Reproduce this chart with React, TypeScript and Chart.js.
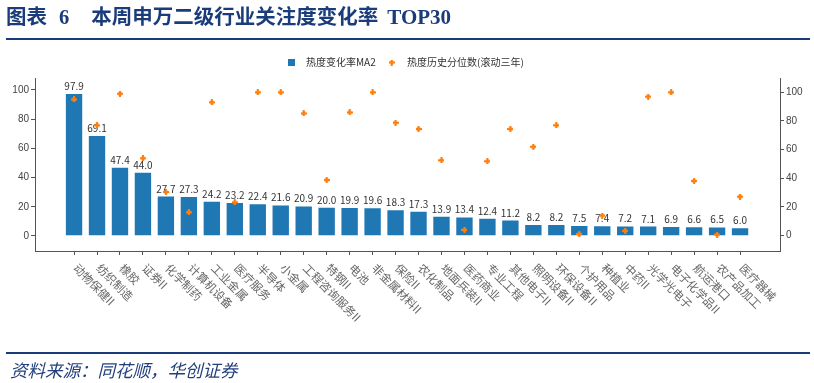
import React, { useEffect, useRef } from 'react';
import { Chart, registerables } from 'chart.js';

Chart.register(...registerables);

const categories = [
  '动物保健II', '纺织制造', '橡胶', '证券II', '化学制药', '计算机设备', '工业金属', '医疗服务',
  '半导体', '小金属', '工程咨询服务II', '特钢II', '电池', '非金属材料II', '保险II', '农化制品',
  '地面兵装II', '医药商业', '专业工程', '其他电子II', '照明设备II', '环保设备II', '个护用品',
  '种植业', '中药II', '光学光电子', '电子化学品II', '航运港口', '农产品加工', '医疗器械',
];
const heatChangeMA2 = [
  97.9, 69.1, 47.4, 44.0, 27.7, 27.3, 24.2, 23.2, 22.4, 21.6, 20.9, 20.0, 19.9, 19.6, 18.3,
  17.3, 13.9, 13.4, 12.4, 11.2, 8.2, 8.2, 7.5, 7.4, 7.2, 7.1, 6.9, 6.6, 6.5, 6.0,
];
const heatPercentile = [
  95, 77, 99, 54, 30.5, 16.3, 93, 23.3, 100, 100, 85.3, 38.8, 86, 100, 78.8,
  74.4, 52.6, 4, 51.9, 74.4, 62, 77, 1.2, 14, 3.3, 97, 100, 38.1, 0.7, 27.2,
];
const leftTicks = [0, 20, 40, 60, 80, 100];
const rightTicks = [0, 20, 40, 60, 80, 100];
const legendLabels = ['热度变化率MA2', '热度历史分位数(滚动三年)'];

const BLUE = '#1f77b4';
const ORANGE = '#ff7f0e';
const NAVY = '#1b3c7b';

function makePlus(color: string) {
  const c = document.createElement('canvas');
  c.width = 6;
  c.height = 6;
  const g = c.getContext('2d')!;
  g.fillStyle = color;
  g.fillRect(2, 0, 2, 6);
  g.fillRect(0, 2, 6, 2);
  g.globalAlpha = 0.5;
  g.fillRect(1, 1, 4, 4);
  return c;
}

export default function App() {
  const ref = useRef<HTMLCanvasElement | null>(null);

  useEffect(() => {
    if (!ref.current) return;
    const plus = makePlus(ORANGE);
    const cjk = '"Noto Sans CJK SC", sans-serif';

    const customPlugin = {
      id: 'customDraw',
      afterDatasetDraw(chart: any, args: any) {
        if (args.index !== 0) return;
        const ctx = chart.ctx;
        ctx.save();
        ctx.font = '10px ' + cjk;
        ctx.fillStyle = '#333';
        ctx.textAlign = 'center';
        ctx.textBaseline = 'alphabetic';
        args.meta.data.forEach((el: any, i: number) => {
          ctx.fillText(heatChangeMA2[i].toFixed(1), el.x, el.y - 3);
        });
        ctx.restore();
      },
      afterDraw(chart: any) {
        const ctx = chart.ctx;
        const xs = chart.scales.x;
        const bottom = chart.chartArea.bottom;
        ctx.save();
        ctx.font = '11.5px ' + cjk;
        ctx.fillStyle = '#666';
        ctx.textAlign = 'left';
        ctx.textBaseline = 'middle';
        categories.forEach((c, i) => {
          const x = xs.getPixelForValue(i);
          ctx.save();
          ctx.translate(x + 1.5, bottom + 15);
          ctx.rotate(Math.PI / 4);
          ctx.fillText(c, 0, 0);
          ctx.restore();
        });
        // legend
        const ly = 62.5;
        ctx.fillStyle = BLUE;
        ctx.fillRect(288, ly - 3.5, 7, 7);
        ctx.drawImage(plus, 391.7 - 3, ly - 3);
        ctx.font = '10px ' + cjk;
        ctx.fillStyle = '#333';
        ctx.textAlign = 'left';
        ctx.textBaseline = 'middle';
        ctx.fillText(legendLabels[0], 306, ly);
        ctx.fillText(legendLabels[1], 407, ly);
        ctx.restore();
      },
    };

    const axisColor = '#555';
    const tickFont = { family: '"Liberation Sans", Arial, sans-serif', size: 10 };

    const chart = new Chart(ref.current, {
      type: 'bar',
      data: {
        datasets: [
          {
            type: 'bar',
            label: legendLabels[0],
            data: heatChangeMA2.map((v, i) => ({ x: i, y: v })),
            backgroundColor: BLUE,
            borderColor: 'rgba(255,255,255,0.55)',
            borderWidth: 1,
            barPercentage: 1,
            categoryPercentage: 0.8,
            yAxisID: 'y',
            xAxisID: 'x',
            order: 2,
          } as any,
          {
            type: 'scatter',
            label: legendLabels[1],
            data: heatPercentile.map((v, i) => ({ x: i, y: v })),
            pointStyle: plus,
            pointRadius: 3,
            backgroundColor: ORANGE,
            borderColor: ORANGE,
            yAxisID: 'y1',
            xAxisID: 'x',
            order: 1,
          } as any,
        ],
      },
      options: {
        animation: false,
        responsive: false,
        maintainAspectRatio: false,
        layout: { padding: { top: 78, left: 0, right: 0, bottom: 0 } },
        plugins: {
          legend: { display: false },
          tooltip: { enabled: false },
        },
        scales: {
          x: {
            type: 'linear',
            min: -1.7,
            max: 30.74,
            bounds: 'data',
            offset: false,
            afterBuildTicks: (s: any) => {
              s.ticks = categories.map((_, i) => ({ value: i }));
            },
            afterFit: (s: any) => {
              s.height = 132;
            },
            grid: {
              display: true,
              offset: false,
              drawOnChartArea: false,
              drawTicks: true,
              tickLength: 4,
              color: axisColor,
              lineWidth: 1,
            },
            border: { display: true, color: axisColor, width: 1 },
            ticks: { display: false },
          } as any,
          y: {
            type: 'linear',
            position: 'left',
            min: -10.3,
            max: 108.2,
            bounds: 'data',
            afterBuildTicks: (s: any) => {
              s.ticks = leftTicks.map((v) => ({ value: v }));
            },
            afterFit: (s: any) => {
              s.width = 35;
            },
            grid: {
              display: true,
              drawOnChartArea: false,
              drawTicks: true,
              tickLength: 4,
              color: axisColor,
            },
            border: { display: true, color: axisColor, width: 1 },
            ticks: { color: '#444', font: tickFont, padding: 2 },
          } as any,
          y1: {
            type: 'linear',
            position: 'right',
            min: -10.7,
            max: 110,
            bounds: 'data',
            afterBuildTicks: (s: any) => {
              s.ticks = rightTicks.map((v) => ({ value: v }));
            },
            afterFit: (s: any) => {
              s.width = 34;
            },
            grid: {
              display: true,
              drawOnChartArea: false,
              drawTicks: true,
              tickLength: 4,
              color: axisColor,
            },
            border: { display: true, color: axisColor, width: 1 },
            ticks: { color: '#444', font: tickFont, padding: 2 },
          } as any,
        },
      },
      plugins: [customPlugin as any],
    });

    return () => chart.destroy();
  }, []);

  return (
    <div
      style={{
        position: 'absolute',
        left: 0,
        top: 0,
        width: 814,
        height: 383,
        background: '#fff',
        overflow: 'hidden',
      }}
    >
      <canvas
        ref={ref}
        width={814}
        height={383}
        style={{ position: 'absolute', left: 0, top: 0, width: 814, height: 383 }}
      />
      <div
        style={{
          position: 'absolute',
          left: 6,
          top: 4,
          fontFamily: '"Noto Sans CJK SC", sans-serif',
          fontWeight: 700,
          fontSize: '20.5px',
          lineHeight: '22px',
          color: NAVY,
          whiteSpace: 'nowrap',
        }}
      >
        <span>图表</span>
        <span style={{ fontFamily: '"Liberation Serif", serif', marginLeft: 12 }}>6</span>
        <span style={{ marginLeft: 22 }}>本周申万二级行业关注度变化率</span>
        <span style={{ fontFamily: '"Liberation Serif", serif', marginLeft: 9, fontSize: '21px' }}>TOP30</span>
      </div>
      <div
        style={{
          position: 'absolute',
          left: 6,
          top: 38,
          width: 804,
          height: 2,
          background: NAVY,
        }}
      />
      <div
        style={{
          position: 'absolute',
          left: 6,
          top: 352,
          width: 804,
          height: 2,
          background: NAVY,
        }}
      />
      <div
        style={{
          position: 'absolute',
          left: 10,
          top: 359.5,
          fontFamily: '"Noto Sans CJK SC", sans-serif',
          fontStyle: 'italic',
          fontSize: '17.5px',
          lineHeight: '20px',
          color: '#223f7c',
          whiteSpace: 'nowrap',
        }}
      >
        资料来源：同花顺，华创证券
      </div>
    </div>
  );
}
